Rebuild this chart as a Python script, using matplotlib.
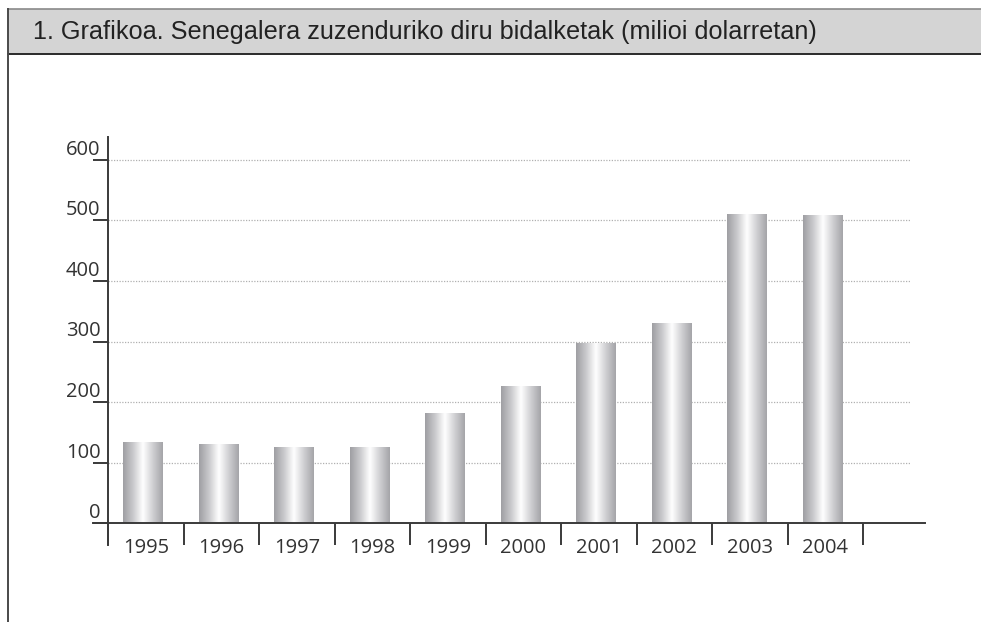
import matplotlib
matplotlib.use("Agg")
import matplotlib.pyplot as plt
import numpy as np
from matplotlib.lines import Line2D
from matplotlib.patches import Rectangle
from matplotlib.colors import LinearSegmentedColormap
import matplotlib.transforms as mtransforms

years = ["1995", "1996", "1997", "1998", "1999", "2000", "2001", "2002", "2003", "2004"]
values = [134, 131, 126, 126, 182, 226, 298, 331, 511, 509]
yticks = [0, 100, 200, 300, 400, 500, 600]
title = "1. Grafikoa. Senegalera zuzenduriko diru bidalketak (milioi dolarretan)"

W, H = 981, 622
DPI = 100
fig = plt.figure(figsize=(W / DPI, H / DPI), dpi=DPI)
fig.patch.set_facecolor("white")

def fx(px):
    return px / W

def fy(py):
    return 1 - py / H

axis_col = "#3a3a3a"
text_col = "#333333"

# Header band
fig.add_artist(Rectangle((fx(8), fy(54)), fx(W) - fx(8), fy(9) - fy(54),
                         transform=fig.transFigure, facecolor="#d4d4d4", edgecolor="none"))
fig.add_artist(Line2D([fx(8), 1], [fy(9), fy(9)], transform=fig.transFigure, color="#8a8a8a", lw=1.2))
fig.add_artist(Line2D([fx(8), 1], [fy(54), fy(54)], transform=fig.transFigure, color="#2a2a2a", lw=1.4))
fig.add_artist(Line2D([fx(8), fx(8)], [fy(9), 0], transform=fig.transFigure, color="#4a4a4a", lw=1.4))
fig.text(fx(33), fy(32), title, transform=fig.transFigure, ha="left", va="center",
         fontsize=18.2, color="#222222", family=["Liberation Sans", "DejaVu Sans"])

# Axes geometry (pixels)
x0px, x1px = 93, 925
ytop, ybot = 137, 545
cat = 75.5
zero_px = 523
unit = (523 - 160) / 600.0
xl = ((x0px - 108) / cat, (x1px - 108) / cat)
yl = (-(ybot - zero_px) / unit, (zero_px - ytop) / unit)

ax = fig.add_axes([fx(x0px), fy(ybot), fx(x1px) - fx(x0px), fy(ytop) - fy(ybot)])
ax.set_xlim(*xl)
ax.set_ylim(*yl)
ax.set_facecolor("none")

# gridlines
ax.hlines(yticks[1:], 0, (910 - 108) / cat, colors="#b0b0b0", linestyles=(0, (1, 1.2)), lw=0.9, zorder=1)

# bars with gradient
cmap = LinearSegmentedColormap.from_list("metal", [
    (0.0, "#9e9ea2"), (0.25, "#c9c9cc"), (0.5, "#ffffff"), (0.75, "#cfcfd2"), (1.0, "#a4a4a8")])
grad = np.linspace(0, 1, 256).reshape(1, -1)
xs = np.arange(len(years)) + 0.46
bars = ax.bar(xs, values, width=0.52, color="none", edgecolor="none", zorder=2)
for b in bars:
    x, y = b.get_x(), b.get_y()
    w, h = b.get_width(), b.get_height()
    im = ax.imshow(grad, cmap=cmap, aspect="auto", extent=(x, x + w, y, y + h),
                   interpolation="bicubic", zorder=2)
    im.set_clip_path(b)
ax.set_xlim(*xl)
ax.set_ylim(*yl)

# spines
for s in ["top", "right"]:
    ax.spines[s].set_visible(False)
ax.spines["left"].set_position(("data", 0))
ax.spines["bottom"].set_position(("data", 0))
ax.spines["left"].set_color(axis_col)
ax.spines["bottom"].set_color(axis_col)
ax.spines["left"].set_linewidth(1.4)
ax.spines["bottom"].set_linewidth(1.4)
ax.spines["left"].set_zorder(3)
ax.spines["bottom"].set_zorder(3)

tick_font = ["Open Sans", "DejaVu Sans"]
# y ticks
ax.set_yticks(yticks)
ax.set_yticklabels([str(v) for v in yticks], family=tick_font, fontsize=14.5, color=text_col)
ax.tick_params(axis="y", direction="out", length=11, width=1.4, color=axis_col, pad=-5.5)
off = mtransforms.ScaledTranslation(0, 0, fig.dpi_scale_trans)
for lab in ax.get_yticklabels():
    lab.set_va("bottom")
    lab.set_transform(lab.get_transform() + off)

# x ticks: boundaries as minor ticks, labels at centers
ax.set_xticks(np.arange(len(years) + 1), minor=True)
ax.set_xticks(np.arange(len(years)) + 0.5)
ax.set_xticklabels(years, family=tick_font, fontsize=14.5, color=text_col)
ax.tick_params(axis="x", which="major", length=0, pad=11)
ax.tick_params(axis="x", which="minor", direction="out", length=16, width=1.4, color=axis_col)

fig.savefig("out.png", dpi=DPI, facecolor="white")
